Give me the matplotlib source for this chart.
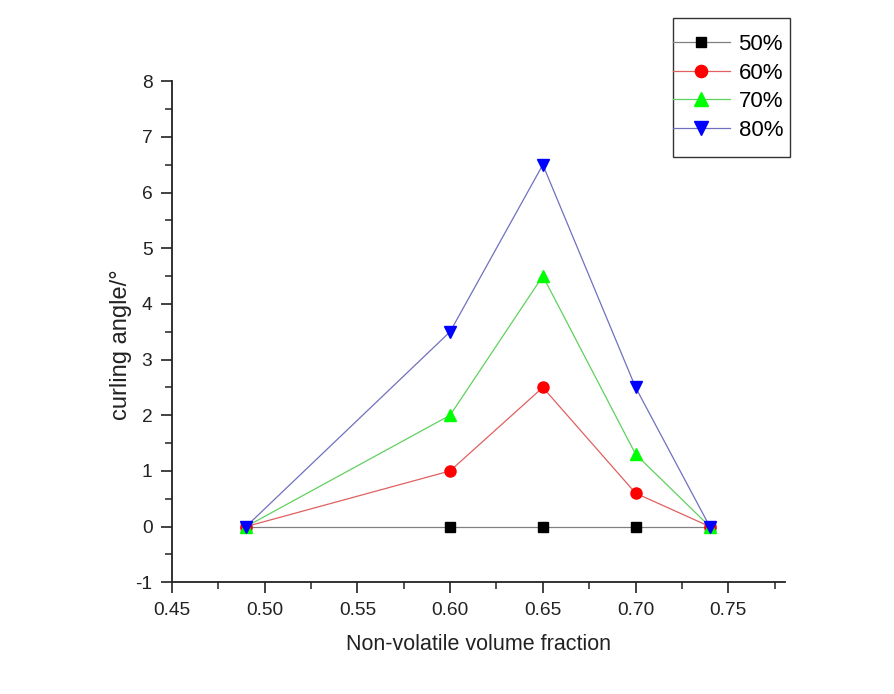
import matplotlib
matplotlib.use("Agg")
import matplotlib.pyplot as plt
from matplotlib.patches import Rectangle
from matplotlib.ticker import MultipleLocator

plt.rcParams["font.family"] = ["Liberation Sans", "DejaVu Sans"]
plt.rcParams["axes.unicode_minus"] = False

# data
fraction = [0.49, 0.60, 0.65, 0.70, 0.74]
angle_50 = [0, 0, 0, 0, 0]
angle_60 = [0, 1.0, 2.5, 0.6, 0]
angle_70 = [0, 2.0, 4.5, 1.3, 0]
angle_80 = [0, 3.5, 6.5, 2.5, 0]
labels = ["50%", "60%", "70%", "80%"]

series = [
    (angle_50, "#808080", "black", "s", 7),
    (angle_60, "#e06060", "#ff0000", "o", 8),
    (angle_70, "#60d060", "#00ff00", "^", 9),
    (angle_80, "#7070c0", "#0000ff", "v", 9),
]

W, H = 895, 694
fig = plt.figure(figsize=(W / 100, H / 100), dpi=100)
ax = fig.add_axes([0.192, 0.161, 0.685, 0.722])

handles = []
for (vals, lc, mc, mk, ms), lab in zip(series, labels):
    (h,) = ax.plot(fraction, vals, color=lc, lw=0.9, marker=mk, ms=ms,
                   mfc=mc, mec=mc, label=lab, clip_on=False, zorder=3)
    handles.append(h)

ax.set_xlim(0.45, 0.7805)
ax.set_ylim(-1, 8)
ax.xaxis.set_major_locator(MultipleLocator(0.05))
ax.xaxis.set_minor_locator(MultipleLocator(0.025))
ax.yaxis.set_major_locator(MultipleLocator(1))
ax.yaxis.set_minor_locator(MultipleLocator(0.5))
ax.xaxis.set_major_formatter(plt.FormatStrFormatter("%.2f"))

for side in ["top", "right"]:
    ax.spines[side].set_visible(False)
for side in ["left", "bottom"]:
    ax.spines[side].set_linewidth(1.3)
    ax.spines[side].set_color("#222222")

ax.tick_params(which="major", direction="out", length=8, width=1.2, pad=6,
               labelsize=13.8, colors="#222222", labelcolor="#222222")
ax.tick_params(which="minor", direction="out", length=5, width=1.1, colors="#222222")

ax.set_xlabel("Non-volatile volume fraction", fontsize=15.5, color="#222222",
              va="center")
ax.set_ylabel("curling angle/°", fontsize=17, color="#222222", va="center")
ax.xaxis.set_label_coords(0.5, -0.124)
ax.yaxis.set_label_coords(-0.083, 0.475)

# legend: entries without frame, box drawn separately (line starts at the box edge)
leg = fig.legend(handles=handles, labels=labels, loc="upper left",
                 bbox_to_anchor=(673 / W, 1 - 34 / H), fontsize=16,
                 frameon=False, handlelength=2.55, handletextpad=0.4,
                 labelspacing=0.34, borderpad=0, borderaxespad=0, markerscale=1.1)
fig.patches.append(Rectangle((673 / W, 1 - 157 / H), 117 / W, 139 / H,
                             transform=fig.transFigure, fill=False,
                             edgecolor="#333333", lw=1.0))

fig.savefig("out.png", dpi=100)
